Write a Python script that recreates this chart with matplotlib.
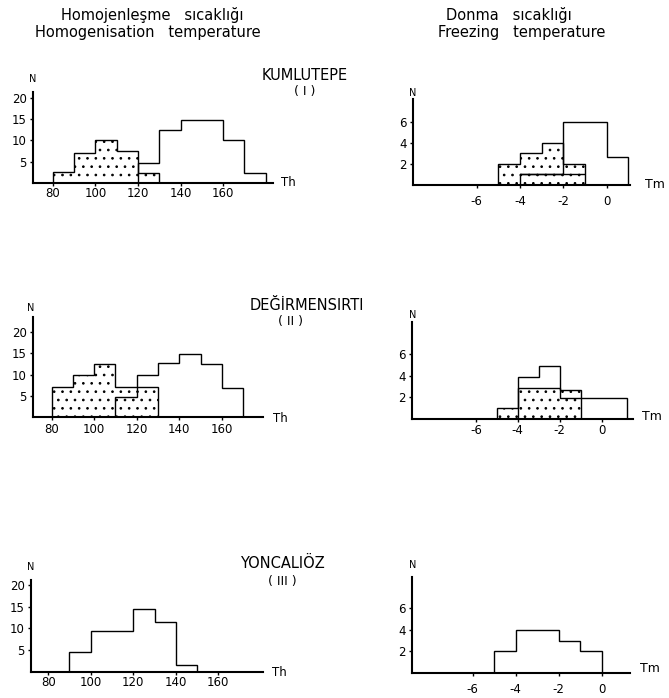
import matplotlib
matplotlib.use("Agg")
import matplotlib.pyplot as plt

plt.rcParams["font.family"] = ["DejaVu Sans"]
plt.rcParams["axes.unicode_minus"] = False
plt.rcParams["hatch.linewidth"] = 0.7

NARROW = ["Liberation Sans Narrow", "DejaVu Sans"]

# ---------------- data ----------------
# Homogenisation temperature (Th)
hom_ticks = [80, 100, 120, 140, 160]
hom_yticks = [5, 10, 15, 20]
# KUMLUTEPE (I)
hom1_dot_edges = [80, 90, 100, 110, 120, 130]
hom1_dot_counts = [2.7, 7, 10, 7.5, 2.3]
hom1_open_edges = [120, 130, 140, 150, 160, 170, 180]
hom1_open_counts = [4.8, 12.5, 14.7, 14.7, 10, 2.4]
# DEGIRMENSIRTI (II)
hom2_dot_edges = [80, 90, 100, 110, 120, 130]
hom2_dot_counts = [7, 10, 12.5, 7, 7]
hom2_open_edges = [110, 120, 130, 140, 150, 160, 170]
hom2_open_counts = [4.8, 10, 12.7, 14.8, 12.4, 6.8]
# YONCALIOZ (III)
hom3_open_edges = [90, 100, 110, 120, 130, 140, 150]
hom3_open_counts = [4.5, 9.5, 9.5, 14.5, 11.5, 1.5]

# Freezing temperature (Tm)
fr_ticks = [-6, -4, -2, 0]
fr_yticks = [2, 4, 6]
# KUMLUTEPE (I)
fr1_dot_edges = [-5, -4, -3, -2, -1]
fr1_dot_counts = [2, 3, 4, 2]
fr1_open_edges = [-4, -3, -2, -1, 0, 1]
fr1_open_counts = [1, 1, 6, 6, 2.7]
fr1_inner_edges = [-4, -3, -2, -1]
fr1_inner_counts = [1, 1, 1]
# DEGIRMENSIRTI (II)
fr2_dot_edges = [-5, -4, -3, -2, -1]
fr2_dot_counts = [1, 2.9, 2.9, 2.7]
fr2_open_edges = [-4, -3, -2, -1, 1.2]
fr2_open_counts = [3.9, 4.9, 1.9, 1.9]
# YONCALIOZ (III)
fr3_open_edges = [-5, -4, -3, -2, -1, 0]
fr3_open_counts = [2, 4, 4, 3, 2]

sites = ["KUMLUTEPE", "DEĞİRMENSIRTI", "YONCALIÖZ"]
site_nums = ["( I )", "( II )", "( III )"]

# ---------------- figure ----------------
W, H = 669, 698
fig = plt.figure(figsize=(W / 100, H / 100), dpi=100)
fig.patch.set_facecolor("white")


def px_axes(x0, x1, ytop, ybot):
    return fig.add_axes([x0 / W, 1 - ybot / H, (x1 - x0) / W, (ybot - ytop) / H])


def style(ax, xlim, ylim, xt, yt, xpad):
    ax.set_xlim(*xlim)
    ax.set_ylim(*ylim)
    for s in ("top", "right"):
        ax.spines[s].set_visible(False)
    for s in ("left", "bottom"):
        ax.spines[s].set_linewidth(1.5)
    ax.set_xticks(xt)
    ax.set_yticks(yt)
    ax.tick_params(axis="x", direction="out", length=2.5, width=1, pad=xpad)
    ax.tick_params(axis="y", direction="out", length=2.5, width=1, pad=2)
    for lab in ax.get_xticklabels() + ax.get_yticklabels():
        lab.set_fontfamily(NARROW)
        lab.set_fontsize(8.5)
    ax.patch.set_alpha(0)


def dotted(ax, edges, counts):
    ax.stairs(counts, edges, fill=True, facecolor="white", edgecolor="black",
              hatch="..", linewidth=1.0, zorder=2)


def opened(ax, edges, counts, baseline=0):
    ax.stairs(counts, edges, fill=False, color="black", linewidth=1.0,
              baseline=baseline, zorder=3)


A1 = px_axes(33, 273, 92, 183)
style(A1, (70.6, 183.5), (0, 21.4), hom_ticks, hom_yticks, 0.5)
dotted(A1, hom1_dot_edges, hom1_dot_counts)
opened(A1, hom1_open_edges, hom1_open_counts)

B1 = px_axes(413, 630, 99, 185)
style(B1, (-8.94, 1.08), (0, 8.15), fr_ticks, fr_yticks, 5)
dotted(B1, fr1_dot_edges, fr1_dot_counts)
opened(B1, fr1_open_edges, fr1_open_counts)
opened(B1, fr1_inner_edges, fr1_inner_counts, baseline=None)

A2 = px_axes(33, 263, 317, 417)
style(A2, (71.2, 179.4), (0, 23.6), hom_ticks, hom_yticks, 1.5)
dotted(A2, hom2_dot_edges, hom2_dot_counts)
opened(A2, hom2_open_edges, hom2_open_counts)

B2 = px_axes(412, 633, 322, 419)
style(B2, (-9.05, 1.5), (0, 8.96), fr_ticks, fr_yticks, 0.8)
dotted(B2, fr2_dot_edges, fr2_dot_counts)
opened(B2, fr2_open_edges, fr2_open_counts)

A3 = px_axes(31, 263, 580, 672)
style(A3, (71.9, 181), (0, 21.1), hom_ticks, hom_yticks, 0.5)
opened(A3, hom3_open_edges, hom3_open_counts)

B3 = px_axes(412, 630, 577, 673)
style(B3, (-8.82, 1.32), (0, 8.9), fr_ticks, fr_yticks, 5)
opened(B3, fr3_open_edges, fr3_open_counts)


def ptext(x, y, s, size, ha="center", va="center", family=None):
    kw = {}
    if family is not None:
        kw["fontfamily"] = family
    fig.text(x / W, 1 - y / H, s, fontsize=size, ha=ha, va=va, color="black", **kw)


# headings
ptext(152, 15, "Homojenleşme   sıcaklığı", 10.5)
ptext(148, 33, "Homogenisation   temperature", 10.5)
ptext(509, 15, "Donma   sıcaklığı", 10.5)
ptext(522, 33, "Freezing   temperature", 10.5)

# site labels
ptext(305, 75, sites[0], 10.5)
ptext(305, 92, site_nums[0], 9)
ptext(307, 305, sites[1], 10.5)
ptext(291, 322, site_nums[1], 9)
ptext(282, 563, sites[2], 10.5)
ptext(282, 581, site_nums[2], 9)

# axis labels
for (x, y) in [(33, 79), (31, 308), (31, 567)]:
    ptext(x, y, "N", 7)
for (x, y) in [(413, 93), (413, 315), (413, 565)]:
    ptext(x, y, "N", 7)
for (x, y) in [(281, 183), (273, 418), (272, 672)]:
    ptext(x, y, "Th", 8.5, ha="left")
for (x, y) in [(645, 185), (642, 417), (640, 669)]:
    ptext(x, y, "Tm", 9, ha="left")

fig.savefig("out.png", dpi=100, facecolor="white")
